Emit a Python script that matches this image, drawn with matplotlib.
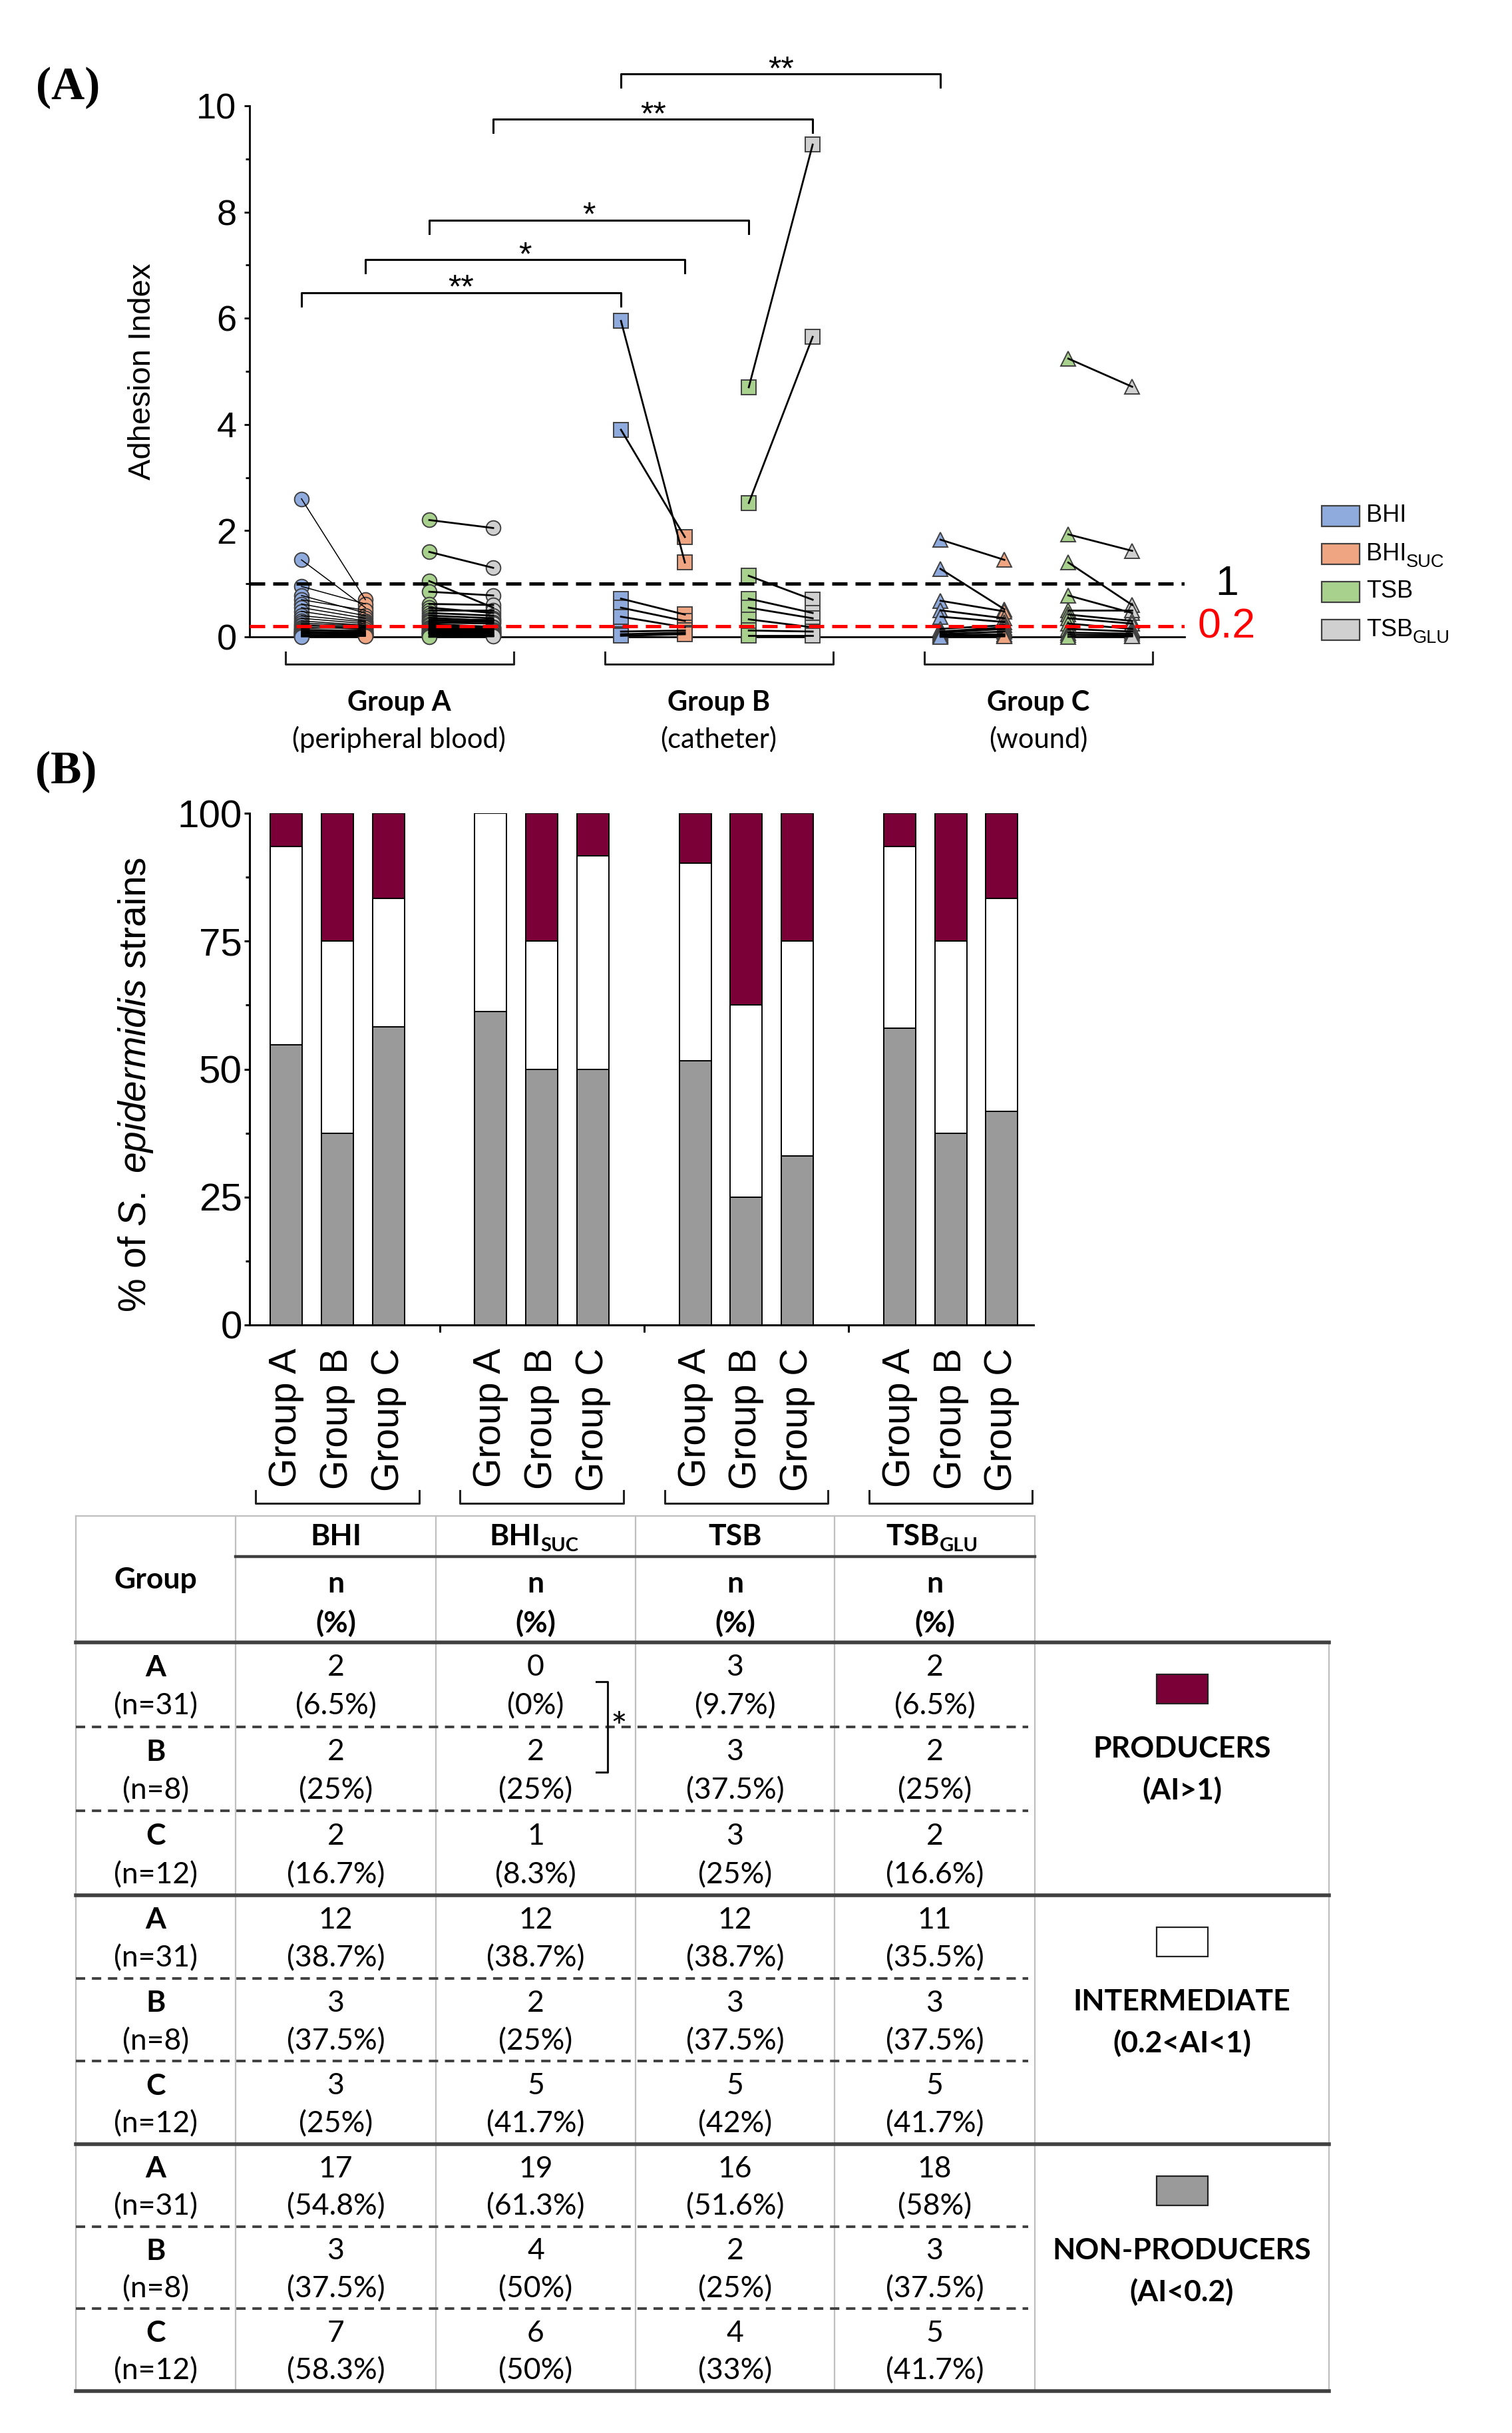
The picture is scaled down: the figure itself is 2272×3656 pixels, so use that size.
import matplotlib
matplotlib.use("Agg")
import matplotlib.pyplot as plt
from matplotlib.patches import Rectangle

W, H = 2272, 3656
DPI = 200

plt.rcParams["font.family"] = ["Liberation Sans", "DejaVu Sans"]
plt.rcParams["mathtext.fontset"] = "custom"
plt.rcParams["mathtext.rm"] = "Liberation Sans"
plt.rcParams["mathtext.it"] = "Liberation Sans:italic"
CAL = ["Lato", "DejaVu Sans"]

# ---------------- data: panel A (adhesion index per strain) ----------------
a_bhi = [2.6, 1.45, 0.95, 0.78, 0.7, 0.62, 0.55, 0.48, 0.4, 0.35, 0.3, 0.26, 0.23, 0.21,
         0.18, 0.16, 0.14, 0.12, 0.11, 0.1, 0.09, 0.08, 0.07, 0.06, 0.05, 0.04, 0.03, 0.03, 0.02, 0.01, 0.0]
a_suc = [0.7, 0.55, 0.62, 0.45, 0.5, 0.4, 0.35, 0.3, 0.28, 0.25, 0.22, 0.21,
         0.19, 0.17, 0.15, 0.18, 0.12, 0.1, 0.14, 0.08, 0.09, 0.06, 0.1, 0.05, 0.07, 0.04, 0.03, 0.05, 0.02, 0.03, 0.01]
a_tsb = [2.2, 1.6, 1.05, 0.85, 0.62, 0.55, 0.5, 0.45, 0.4, 0.36, 0.33, 0.3, 0.27, 0.24, 0.21,
         0.18, 0.16, 0.15, 0.13, 0.12, 0.1, 0.09, 0.08, 0.07, 0.06, 0.05, 0.04, 0.03, 0.02, 0.01, 0.0]
a_glu = [2.05, 1.3, 0.55, 0.78, 0.6, 0.45, 0.5, 0.4, 0.35, 0.3, 0.33, 0.28, 0.25,
         0.19, 0.18, 0.15, 0.17, 0.12, 0.14, 0.1, 0.09, 0.11, 0.07, 0.08, 0.05, 0.06, 0.04, 0.03, 0.02, 0.02, 0.01]

b_bhi = [5.95, 3.9, 0.72, 0.55, 0.38, 0.1, 0.05, 0.02]
b_suc = [1.4, 1.88, 0.42, 0.3, 0.18, 0.12, 0.08, 0.05]
b_tsb = [4.7, 2.52, 1.15, 0.72, 0.55, 0.33, 0.12, 0.02]
b_glu = [9.27, 5.65, 0.7, 0.45, 0.35, 0.18, 0.1, 0.02]

c_bhi = [1.83, 1.28, 0.68, 0.5, 0.38, 0.15, 0.1, 0.08, 0.05, 0.03, 0.02, 0.0]
c_suc = [1.45, 0.52, 0.48, 0.35, 0.28, 0.22, 0.18, 0.15, 0.1, 0.05, 0.03, 0.01]
c_tsb = [5.24, 1.93, 1.4, 0.78, 0.5, 0.42, 0.35, 0.25, 0.15, 0.08, 0.04, 0.0]
c_glu = [4.71, 1.62, 0.6, 0.45, 0.5, 0.3, 0.25, 0.15, 0.1, 0.06, 0.03, 0.01]

group_names = ["Group A", "Group B", "Group C"]
group_origin = ["(peripheral blood)", "(catheter)", "(wound)"]
group_markers = ["o", "s", "^"]

# significance brackets (x positions on the strip axis, bracket height)
sig_left = [1, 2, 3, 4, 6]
sig_right = [6, 7, 8, 9, 11]
sig_height = [6.48, 7.1, 7.85, 9.75, 10.6]
sig_label = ["**", "*", "*", "**", "**"]

# ---------------- data: panel B / table ----------------
media_base = ["BHI", "BHI", "TSB", "TSB"]
media_sub = ["", "SUC", "", "GLU"]
groups = ["A", "B", "C"]
group_n = [31, 8, 12]
# [medium][group]
prod_n = [[2, 2, 2], [0, 2, 1], [3, 3, 3], [2, 2, 2]]
prod_pct = [[6.5, 25, 16.7], [0, 25, 8.3], [9.7, 37.5, 25], [6.5, 25, 16.6]]
inter_n = [[12, 3, 3], [12, 2, 5], [12, 3, 5], [11, 3, 5]]
inter_pct = [[38.7, 37.5, 25], [38.7, 25, 41.7], [38.7, 37.5, 42], [35.5, 37.5, 41.7]]
non_n = [[17, 3, 7], [19, 4, 6], [16, 2, 4], [18, 3, 5]]
non_pct = [[54.8, 37.5, 58.3], [61.3, 50, 50], [51.6, 25, 33], [58, 37.5, 41.7]]

BLUE, ORANGE, GREEN, GREY = "#8FAADC", "#EFA581", "#A9D18E", "#D0D0D0"
MAROON, DGREY = "#7C0038", "#9A9A9A"
EDGE = "#404040"

fig = plt.figure(figsize=(W / DPI, H / DPI), dpi=DPI)
fig.patch.set_facecolor("white")

# overlay axes in pixel coordinates for table, legend and labels
ov = fig.add_axes([0, 0, 1, 1])
ov.set_xlim(0, W)
ov.set_ylim(H, 0)
ov.axis("off")

# ================= Panel A =================
axA = fig.add_axes([375 / W, 1 - 957 / H, (1780 - 375) / W, (957 - 159) / H])
axA.set_xlim(0.1875, 14.82)
axA.set_ylim(0, 10)
for s in ["top", "right"]:
    axA.spines[s].set_visible(False)
for s in ["left", "bottom"]:
    axA.spines[s].set_linewidth(1.0)
axA.set_xticks([])
axA.set_yticks(range(0, 11, 2))
axA.set_yticks(range(1, 11, 2), minor=True)
axA.tick_params(axis="y", which="major", direction="out", length=3, width=1.0, labelsize=19.5, pad=4)
axA.tick_params(axis="y", which="minor", direction="out", length=2, width=1.0)
axA.text(-0.1146, 0.5, "Adhesion Index", transform=axA.transAxes, rotation=90,
         ha="center", va="center", fontsize=17)

data_sets = [(a_bhi, a_suc, a_tsb, a_glu), (b_bhi, b_suc, b_tsb, b_glu), (c_bhi, c_suc, c_tsb, c_glu)]
colors = [BLUE, ORANGE, GREEN, GREY]
for g, sets in enumerate(data_sets):
    base = 1 + 5 * g
    mk = group_markers[g]
    for k, vals in enumerate(sets):
        axA.plot([base + k] * len(vals), vals, ls="none", marker=mk, ms=7.8,
                 mfc=colors[k], mec=EDGE, mew=0.7, clip_on=False, zorder=3)
    lw_pair = 0.55 if g == 0 else 1.0
    for i in range(len(sets[0])):
        axA.plot([base, base + 1], [sets[0][i], sets[1][i]], color="black",
                 lw=lw_pair, clip_on=False, zorder=4)
        axA.plot([base + 2, base + 3], [sets[2][i], sets[3][i]], color="black",
                 lw=1.0, clip_on=False, zorder=4)
    # group bracket below axis
    axA.plot([base - 0.25, base - 0.25, base + 3.32, base + 3.32], [-0.29, -0.51, -0.51, -0.29],
             color="#222222", lw=1.1, clip_on=False)
    cx = base + 1.53
    axA.text(cx, -1.24, group_names[g], ha="center", va="center", fontsize=15,
             fontweight="bold", family=CAL, clip_on=False)
    axA.text(cx, -1.93, group_origin[g], ha="center", va="center", fontsize=15,
             family=CAL, clip_on=False)

axA.axhline(1, color="black", ls=(0, (4.6, 2.4)), lw=1.8, zorder=5)
axA.axhline(0.2, color="#FF0000", ls=(0, (4.6, 2.4)), lw=1.8, zorder=5)
axA.text(15.48, 1.0, "1", ha="center", va="center", fontsize=22.5, clip_on=False)
axA.text(15.48, 0.19, "0.2", ha="center", va="center", fontsize=22.5, color="#FF0000", clip_on=False)

for x1, x2, y, lab in zip(sig_left, sig_right, sig_height, sig_label):
    axA.plot([x1, x1, x2, x2], [y - 0.25, y, y, y - 0.25], color="black", lw=1.1, clip_on=False)
    axA.text((x1 + x2) / 2, y - 0.1, lab, ha="center", va="baseline", fontsize=18, clip_on=False)

# legend of panel A
leg_y = [775, 832, 889, 946]
for k in range(4):
    ov.add_patch(Rectangle((1986, leg_y[k] - 15.5), 57, 31, facecolor=colors[k],
                           edgecolor=EDGE, lw=0.8))
    t = ov.text(2053, leg_y[k], media_base[k], ha="left", va="center", fontsize=13)
    if media_sub[k]:
        ov.annotate(media_sub[k], xy=(1, 0.12), xycoords=t, ha="left", va="center", fontsize=9.8)

ov.text(54, 132, "(A)", ha="left", va="center", fontsize=25, fontweight="bold",
        family=["Liberation Serif", "DejaVu Serif"])
ov.text(53, 1160, "(B)", ha="left", va="center", fontsize=25, fontweight="bold",
        family=["Liberation Serif", "DejaVu Serif"])

# ================= Panel B =================
axB = fig.add_axes([375 / W, 1 - 1991 / H, (1553 - 375) / W, (1991 - 1222) / H])
axB.set_xlim(-0.72, 14.62)
axB.set_ylim(0, 100)
for s in ["top", "right"]:
    axB.spines[s].set_visible(False)
for s in ["left", "bottom"]:
    axB.spines[s].set_linewidth(1.1)

positions, tick_labels = [], []
for m in range(4):
    for g in range(3):
        x = 4 * m + g
        positions.append(x)
        tick_labels.append(group_names[g])
        n_val, i_val, p_val = non_pct[m][g], inter_pct[m][g], prod_pct[m][g]
        axB.bar(x, n_val, width=0.625, color=DGREY, edgecolor="black", lw=0.7)
        axB.bar(x, i_val, bottom=n_val, width=0.625, color="white", edgecolor="black", lw=0.7)
        if p_val > 0:
            axB.bar(x, p_val, bottom=n_val + i_val, width=0.625, color=MAROON,
                    edgecolor="black", lw=0.7)
    c = 4 * m + 1
    axB.plot([c - 1.6, c - 1.6, c + 1.6, c + 1.6], [-32.4, -34.9, -34.9, -32.4],
             color="#222222", lw=1.1, clip_on=False)

axB.set_xticks(positions, tick_labels, rotation=90, fontsize=20.5)
axB.set_xticks([3, 7, 11], minor=True)
axB.tick_params(axis="x", which="major", length=0, pad=12.5)
axB.tick_params(axis="x", which="minor", direction="out", length=4, width=1.1)
axB.set_yticks([0, 25, 50, 75, 100])
axB.set_yticks([12.5, 37.5, 62.5, 87.5], minor=True)
axB.tick_params(axis="y", which="major", direction="out", length=3, width=1.1, labelsize=21, pad=1)
axB.tick_params(axis="y", which="minor", direction="out", length=2, width=1.1)
axB.text(-0.145, 0.47, r"% of $\mathit{S.\ epidermidis}$ strains", transform=axB.transAxes,
         rotation=90, ha="center", va="center", fontsize=20.5)

# ================= Table =================
cols = [114, 354, 655, 955, 1254, 1555, 1997]
t_top, t_mid, t_hdr = 2278, 2339, 2468
sec = [2468, 2848, 3222, 3593]
LIGHT = "#BFBFBF"
DARK = "#404040"

def ttext(x, y, s, bold=False, size=16):
    return ov.text(x, y, s, ha="center", va="center", fontsize=size,
                   fontweight="bold" if bold else "normal", family=CAL)

# light borders
ov.plot([cols[0], cols[5]], [t_top, t_top], color=LIGHT, lw=0.8)
for x in cols[:6]:
    ov.plot([x, x], [t_top, sec[-1]], color=LIGHT, lw=0.8)
ov.plot([cols[6], cols[6]], [t_hdr, sec[-1]], color=LIGHT, lw=0.8)
# header lines
ov.plot([cols[1], cols[5]], [t_mid, t_mid], color=DARK, lw=1.6)
for y in sec:
    ov.plot([cols[0], cols[6]], [y, y], color=DARK, lw=2.0)

# header text
ttext((cols[0] + cols[1]) / 2, 2374, "Group", bold=True)
for m in range(4):
    cx = (cols[m + 1] + cols[m + 2]) / 2
    if media_sub[m]:
        t = ov.text(cx + 7, 2309, media_base[m], ha="right", va="center", fontsize=16,
                    fontweight="bold", family=CAL)
        ov.annotate(media_sub[m], xy=(1, 0.14), xycoords=t, ha="left", va="center",
                    fontsize=10.5, fontweight="bold", family=CAL)
    else:
        ttext(cx, 2309, media_base[m], bold=True)
    ttext(cx, 2380, "n", bold=True)
    ttext(cx, 2439, "(%)", bold=True)

cat_n = [prod_n, inter_n, non_n]
cat_pct = [prod_pct, inter_pct, non_pct]
cat_title = ["PRODUCERS", "INTERMEDIATE", "NON-PRODUCERS"]
cat_range = ["(AI>1)", "(0.2<AI<1)", "(AI<0.2)"]
cat_color = [MAROON, "white", DGREY]

for s in range(3):
    y0, y1 = sec[s], sec[s + 1]
    rh = (y1 - y0) / 3
    for g in range(3):
        ry = y0 + g * rh
        if g > 0:
            ov.plot([cols[0], 1545], [ry, ry], color=DARK, lw=1.4, ls=(0, (3.6, 2.6)))
        l1, l2 = ry + 0.3 * rh, ry + 0.76 * rh
        gx = (cols[0] + cols[1]) / 2
        ttext(gx, l1, groups[g], bold=True)
        ttext(gx, l2, f"(n={group_n[g]})")
        for m in range(4):
            cx = (cols[m + 1] + cols[m + 2]) / 2
            ttext(cx, l1, f"{cat_n[s][m][g]}")
            ttext(cx, l2, f"({cat_pct[s][m][g]:g}%)")
    lx = (cols[5] + cols[6]) / 2
    ov.add_patch(Rectangle((lx - 38.5, y0 + 70 - 22), 77, 44, facecolor=cat_color[s],
                           edgecolor="#222222", lw=0.8))
    ttext(lx, y0 + 160, cat_title[s], bold=True)
    ttext(lx, y0 + 222, cat_range[s], bold=True)

# significance bracket inside the table
ov.plot([896, 913, 913, 896], [2527, 2527, 2663, 2663], color="#111111", lw=1.1)
ov.text(930, 2598, "*", ha="center", va="center", fontsize=21, family=CAL)

fig.savefig("out.png", dpi=DPI, facecolor="white")
